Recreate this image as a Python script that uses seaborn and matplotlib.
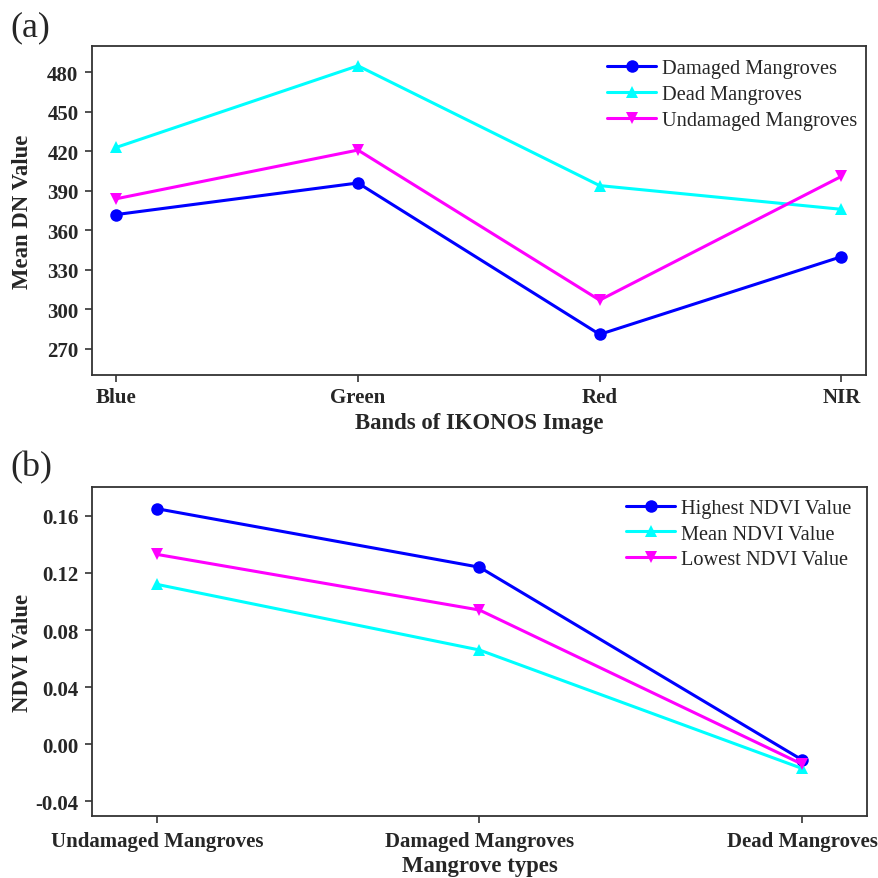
import numpy as np
import pandas as pd
import matplotlib
matplotlib.use("Agg")
import matplotlib.pyplot as plt
import seaborn as sns

# ---- data ----
bands = ["Blue", "Green", "Red", "NIR"]
series_a = ["Damaged Mangroves", "Dead Mangroves", "Undamaged Mangroves"]
damaged_dn = [372, 396, 281, 340]
dead_dn = [423, 485, 394, 376]
undamaged_dn = [384, 421, 307, 401]

mangrove_types = ["Undamaged Mangroves", "Damaged Mangroves", "Dead Mangroves"]
series_b = ["Highest NDVI Value", "Mean NDVI Value", "Lowest NDVI Value"]
highest_ndvi = [0.165, 0.124, -0.011]
mean_ndvi = [0.112, 0.066, -0.017]
lowest_ndvi = [0.133, 0.094, -0.014]

yticks_a = [270, 300, 330, 360, 390, 420, 450, 480]
yticks_b = [-0.04, 0.00, 0.04, 0.08, 0.12, 0.16]

sns.set_theme(style="white")
plt.rcParams["font.family"] = ["Liberation Serif", "DejaVu Serif"]

colors = ["#0000FF", "#00FFFF", "#FF00FF"]
markers = ["o", "^", "v"]

df_a = pd.DataFrame({
    "x": list(range(len(bands))) * 3,
    "value": damaged_dn + dead_dn + undamaged_dn,
    "series": [s for s in series_a for _ in bands],
})
df_b = pd.DataFrame({
    "x": list(range(len(mangrove_types))) * 3,
    "value": highest_ndvi + mean_ndvi + lowest_ndvi,
    "series": [s for s in series_b for _ in mangrove_types],
})

fig = plt.figure(figsize=(8.79, 8.79), dpi=100)
ax1 = fig.add_axes([0.1047, 0.572, 0.880, 0.3745])
ax2 = fig.add_axes([0.1050, 0.071, 0.881, 0.3735])


def draw(ax, df, order, cats, yticks, ylim, xlim, xlabel, ylabel, fmt,
         xpad, labelpad, leg_anchor):
    sns.lineplot(data=df, x="x", y="value", hue="series", style="series",
                 hue_order=order, style_order=order,
                 palette=dict(zip(order, colors)),
                 markers=dict(zip(order, markers)), dashes=False,
                 linewidth=2.2, markersize=9, markeredgewidth=0,
                 ax=ax, sort=False)
    ax.set_xlim(*xlim)
    ax.set_ylim(*ylim)
    ax.set_xticks(range(len(cats)))
    ax.set_xticklabels(cats, fontsize=15, fontweight="bold")
    ax.set_yticks(yticks)
    ax.set_yticklabels([fmt(v) for v in yticks], fontsize=15, fontweight="bold")
    ax.set_xlabel(xlabel, fontsize=16.4, fontweight="bold", labelpad=labelpad)
    ax.set_ylabel(ylabel, fontsize=16.4, fontweight="bold")
    ax.yaxis.set_label_coords(-0.0767, 0.5)
    ax.tick_params(axis="both", which="both", direction="out", length=4.8,
                   width=1.2, color="#333333", bottom=True, left=True,
                   top=False, right=False)
    ax.tick_params(axis="x", pad=xpad)
    ax.tick_params(axis="y", pad=5)
    for sp in ax.spines.values():
        sp.set_color("#333333")
        sp.set_linewidth(1.3)
    ax.grid(False)
    leg = ax.legend(loc="upper right", bbox_to_anchor=leg_anchor,
                    frameon=False, fontsize=14.7,
                    handlelength=2.4, handletextpad=0.3, labelspacing=0.32,
                    borderaxespad=0.0)
    for h in leg.legend_handles:
        h.set_linewidth(2.2)
        h.set_markersize(9)


draw(ax1, df_a, series_a, bands, yticks_a, (250, 500), (-0.1, 3.1),
     "Bands of IKONOS Image", "Mean DN Value", lambda v: f"{v:d}",
     xpad=3.6, labelpad=3.6, leg_anchor=(1.0, 0.986))
draw(ax2, df_b, series_b, mangrove_types, yticks_b, (-0.05, 0.18), (-0.2, 2.2),
     "Mangrove types", "NDVI Value", lambda v: f"{v:.2f}",
     xpad=6.5, labelpad=2.5, leg_anchor=(0.991, 0.991))

fig.text(0.012, 0.9687, "(a)", fontsize=26, ha="left", va="center")
fig.text(0.012, 0.468, "(b)", fontsize=26, ha="left", va="center")

fig.savefig("out.png", dpi=100, facecolor="white")
